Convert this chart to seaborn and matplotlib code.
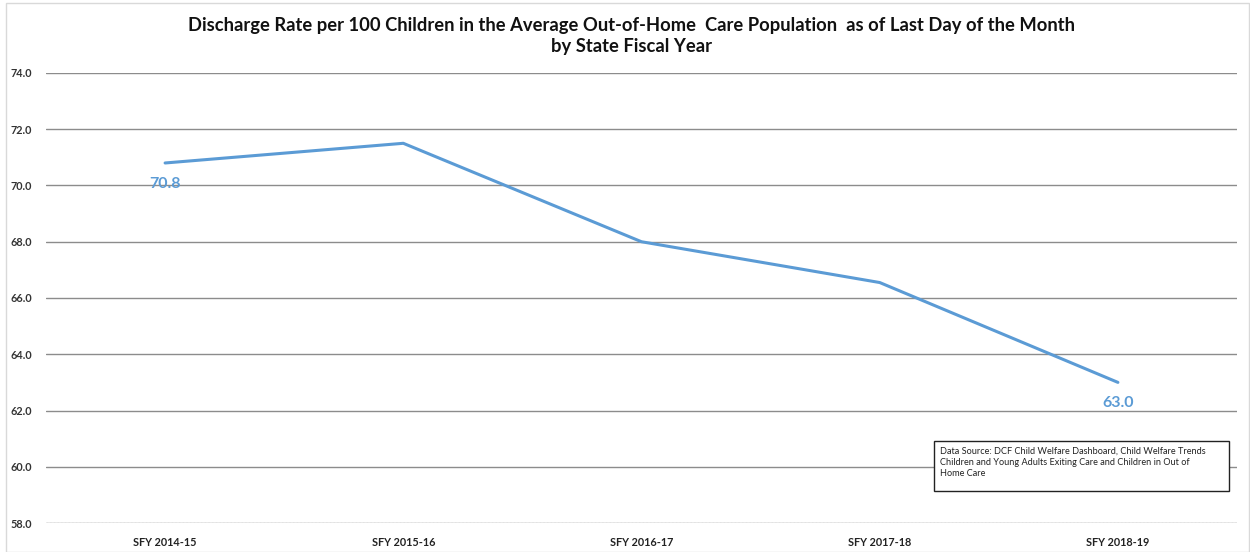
import matplotlib
matplotlib.use("Agg")
import matplotlib.pyplot as plt
import seaborn as sns
import pandas as pd
from matplotlib.patches import Rectangle

years = ["SFY 2014-15", "SFY 2015-16", "SFY 2016-17", "SFY 2017-18", "SFY 2018-19"]
rates = [70.8, 71.5, 68.0, 66.55, 63.0]
y_ticks = [58.0, 60.0, 62.0, 64.0, 66.0, 68.0, 70.0, 72.0, 74.0]

sns.set_theme(style="white")
plt.rcParams['font.family'] = ['Lato', 'DejaVu Sans']

df = pd.DataFrame({"year": years, "rate": rates})
fig = plt.figure(figsize=(12.5, 5.52), dpi=100)
ax = fig.add_axes([0.0368, 0.0525, 0.9528, 0.8153])

color = "#5B9BD5"
sns.lineplot(data=df, x="year", y="rate", ax=ax, color=color, linewidth=2.2, sort=False)

ax.set_xlim(-0.5, len(years) - 0.5)
ax.set_ylim(58, 74)
ax.set_yticks(y_ticks)
ax.set_yticklabels([f"{v:.1f}" for v in y_ticks], fontsize=7.8, fontweight="bold", color="#333333")
ax.set_xticks(range(len(years)))
ax.set_xticklabels(years, fontsize=7.8, fontweight="bold", color="#222222")
ax.tick_params(axis="x", length=0, pad=10)
ax.tick_params(axis="y", length=0, pad=10)
ax.set_xlabel("")
ax.set_ylabel("")
for s in ax.spines.values():
    s.set_visible(False)
ax.yaxis.grid(True, color="#8c8c8c", linewidth=1.0)
ax.set_axisbelow(True)
ax.axhline(58, color="#cccccc", linewidth=1.0, linestyle=":")

# data labels
for i in [0, len(years) - 1]:
    ax.annotate(f"{rates[i]:.1f}", (i, rates[i]), xytext=(0, -15), textcoords="offset points",
                ha="center", va="center", fontsize=11.5, fontweight="bold", color=color)

fig.suptitle("Discharge Rate per 100 Children in the Average Out-of-Home  Care Population  as of Last Day of the Month\nby State Fiscal Year",
             x=0.505, y=0.97, fontsize=13.2, fontweight="bold", color="#111111", linespacing=1.35)

# source box
box_text = ("Data Source: DCF Child Welfare Dashboard, Child Welfare Trends\n"
            "Children and Young Adults Exiting Care and Children in Out of\n"
            "Home Care")
bx0, by0, bw, bh = 934/1250, 1 - 491/552, (1229-934)/1250, (491-441)/552
fig.patches.append(Rectangle((bx0, by0), bw, bh, transform=fig.transFigure, facecolor="white",
                             edgecolor="#222222", linewidth=1.0, zorder=5))
fig.text(bx0 + 0.005, by0 + bh - 0.011, box_text, fontsize=6.6, va="top", ha="left",
         color="#222222", zorder=6, linespacing=1.3)

# figure border
fig.patches.append(Rectangle((0.005, 0.0), 0.994, 0.994, transform=fig.transFigure, facecolor="none",
                             edgecolor="#d9d9d9", linewidth=1.0, zorder=0))

fig.savefig("out.png", dpi=100)
